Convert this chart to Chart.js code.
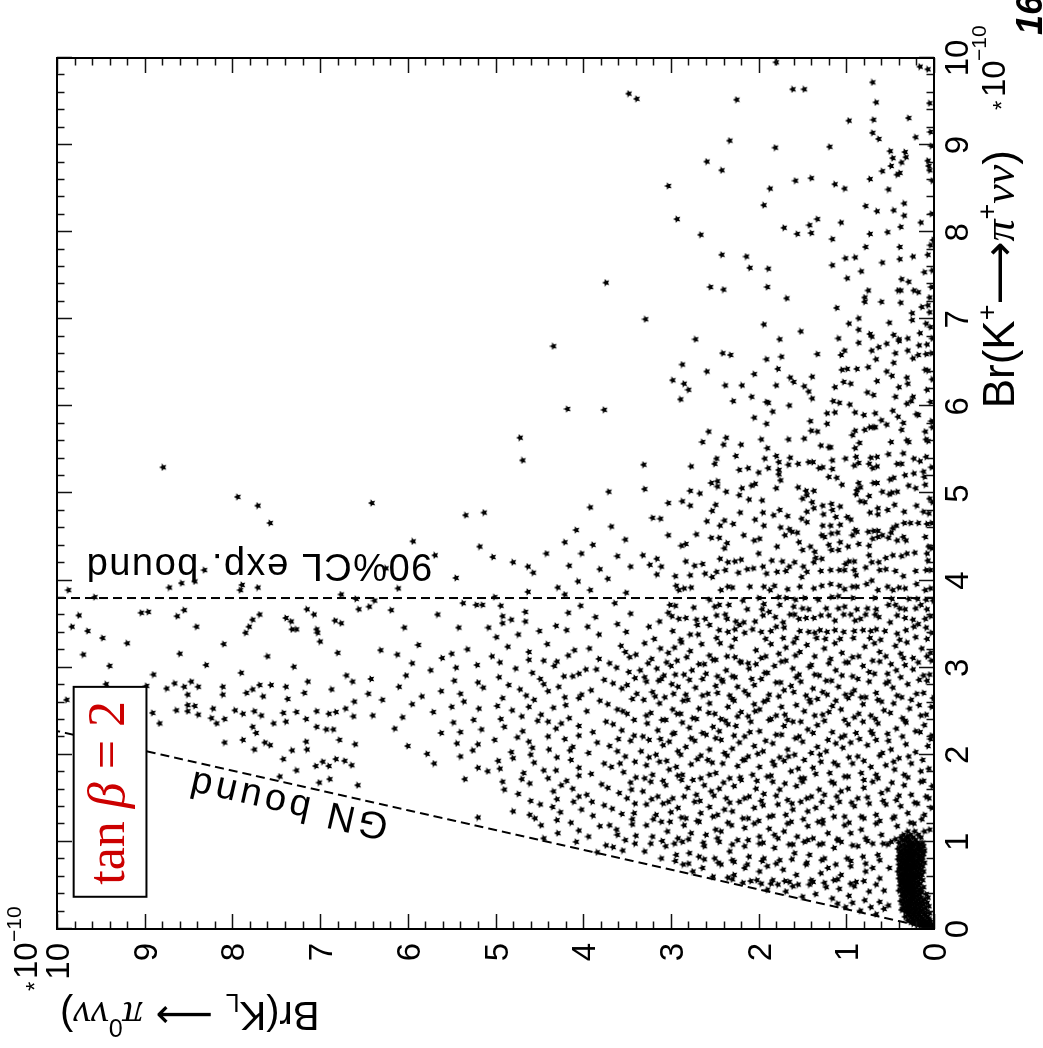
<!DOCTYPE html>
<html>
<head>
<meta charset="utf-8">
<script src="https://cdn.jsdelivr.net/npm/chart.js@4.4.1/dist/chart.umd.min.js"></script>
<style>
  html, body { margin: 0; padding: 0; background: #fff; overflow: hidden; width: 1043px; height: 1048px; }
  /* the page is printed sideways: the whole plot is turned a quarter turn counter-clockwise */
  #turn { position: absolute; left: 0; top: 0; width: 1048px; height: 1043px;
          transform-origin: 0 0; transform: translate(0px, 1048px) rotate(-90deg); }
  canvas { display: block; }
</style>
</head>
<body>
<div id="turn"><canvas id="plot" width="1048" height="1043"></canvas></div>
<script>
// scan points as [Br(K+ -> pi+ nu nu), Br(KL -> pi0 nu nu)], units of 1e-10

// large Br(K+)
const pointsUpper = [
[9.95,1.80],[9.90,0.16],[9.87,0.07],[9.72,0.70],[9.64,1.61],[9.64,1.48],[9.52,2.25],[9.53,3.39],[9.59,3.48],[9.49,0.66],
[9.48,0.05],[9.28,0.97],[9.29,0.69],[9.31,0.29],[9.05,2.33],[9.14,0.70],[9.07,0.63],[9.09,0.21],[9.15,0.04],[8.97,1.81],
[8.98,1.19],[8.99,0.03],[8.81,2.59],[8.93,0.50],[8.92,0.33],[8.85,0.47],[8.86,0.32],[8.80,0.37],[8.82,0.07],[8.76,0.49],
[8.76,0.06],[8.71,2.42],[8.70,0.59],[8.68,0.39],[8.66,0.42],[8.71,0.05],[8.53,3.03],[8.59,1.58],[8.62,1.40],[8.55,1.13],
[8.50,1.02],[8.50,1.87],[8.61,0.73],[8.49,0.52],[8.59,0.02],[8.31,1.94],[8.30,0.78],[8.24,0.65],[8.25,0.46],[8.33,0.34],
[8.19,0.34],[8.21,0.03],[8.15,2.93],[8.05,1.71],[8.08,1.42],[8.15,1.33],[8.11,1.06],[8.11,0.15],[7.97,2.66],[7.98,1.56],
[7.99,1.40],[7.92,1.16],[7.98,0.73],[8.00,0.53],[8.06,0.38],[7.91,0.01],[7.85,0.04],[7.83,0.78],[7.83,0.39],[7.74,2.42],
[7.72,2.14],[7.70,1.01],[7.71,0.90],[7.72,0.24],[7.74,0.07],[7.59,2.10],[7.58,1.89],[7.62,1.16],[7.65,0.59],[7.69,0.39],
[7.55,0.83],[7.54,0.11],[7.56,0.02],[7.37,2.55],[7.34,2.40],[7.37,1.90],[7.47,0.99],[7.46,0.37],[7.43,0.29],[7.33,0.75],
[7.25,0.79],[7.20,0.79],[7.33,0.41],[7.33,0.38],[7.33,0.23],[7.31,0.18],[7.37,0.03],[7.25,0.05],[7.24,1.68],[7.20,0.60],
[7.19,0.38],[7.13,1.11],[7.14,0.14],[7.16,0.07],[7.08,0.05],[7.00,3.29],[6.94,1.94],[6.95,0.97],[7.01,0.86],[7.07,0.25],
[6.99,0.25],[6.96,0.51],[6.95,0.09],[6.91,0.04],[6.86,1.52],[6.88,0.86],[6.83,0.73],[6.80,0.71],[6.82,0.46],[6.84,0.16],
[6.77,2.72],[6.77,1.76],[6.78,1.09],[6.77,0.40],[6.78,0.30],[6.78,0.02],
[7.42,3.74],[6.69,4.34],[5.97,4.18],[5.96,3.76],[5.64,4.72],[5.38,4.69],[5.30,8.79],[4.96,7.94],[4.86,7.71],[4.89,6.41],
[4.75,5.34],[4.78,5.13],[5.02,3.71],[4.84,3.92]
];

// Br(K+) between about 3.3 and 6.8, small Br(KL)
const pointsMiddle = [
[6.73,0.86],[6.72,0.54],[6.75,0.40],[6.70,0.17],[6.71,0.08],[6.59,1.06],[6.64,1.02],[6.64,0.71],[6.68,0.63],[6.61,0.44],
[6.64,0.30],[6.59,0.18],[6.60,0.09],[6.61,0.03],[6.61,2.41],[6.59,2.32],[6.54,1.91],[6.57,1.74],[6.60,1.33],[6.54,0.66],
[6.50,0.46],[6.55,0.24],
[6.48,2.87],[6.40,2.59],[6.30,2.98],[6.26,2.85],[6.19,2.80],[6.43,1.78],[6.37,2.05],[6.33,1.64],[6.28,1.60],[6.34,1.39],
[6.42,1.05],[6.43,0.99],[6.43,0.88],[6.45,0.75],[6.40,0.54],[6.35,0.48],[6.33,0.31],[6.42,0.10],[6.41,0.07],[6.31,0.02],
[6.24,2.38],[6.24,2.19],[6.24,1.80],[6.23,1.48],[6.17,1.43],[6.22,1.13],[6.28,1.03],[6.26,0.95],[6.29,0.65],[6.26,0.30],
[6.19,0.08],[6.08,2.89],
[6.06,2.29],[6.11,2.08],[6.05,1.91],[6.04,1.89],[6.01,1.65],[6.09,1.39],[6.06,1.15],[6.04,1.08],[6.02,0.96],[6.16,0.76],
[6.13,0.69],[6.11,0.44],[6.22,0.40],[6.03,0.31],[6.06,0.26],[6.11,0.24],[5.94,1.84],[5.87,2.05],[5.80,1.91],[5.83,1.41],
[5.92,1.22],[5.93,1.13],[5.80,1.22],[5.93,0.90],[5.90,0.80],[5.92,0.67],[5.84,0.60],[5.79,0.54],[5.95,0.47],[5.88,0.41],
[5.81,0.35],[5.91,0.20],[5.90,0.18],[6.05,0.04],[5.83,0.03],
[5.71,2.57],[5.59,2.64],[5.56,2.40],[5.64,2.37],[5.56,2.20],[5.62,1.97],[5.52,1.90],[5.62,1.66],[5.63,1.48],[5.72,1.40],
[5.71,1.33],[5.55,1.29],[5.53,1.20],[5.53,1.18],[5.67,0.93],[5.72,0.90],[5.58,0.85],[5.52,0.90],[5.73,0.79],[5.76,0.73],
[5.76,0.69],[5.76,0.67],[5.59,0.49],[5.73,0.37],[5.61,0.31],[5.59,0.29],[5.71,0.10],[5.62,0.09],[5.60,0.07],[5.76,0.02],
[5.33,3.31],[5.31,2.77],[5.34,2.50],[5.40,2.48],[5.43,2.26],[5.27,2.22],[5.29,2.12],[5.24,2.00],[5.40,1.93],[5.29,1.89],
[5.43,1.80],[5.36,1.77],[5.27,1.77],[5.33,1.66],[5.41,1.64],[5.34,1.55],[5.36,1.43],[5.36,1.38],[5.29,1.31],[5.30,1.27],
[5.38,1.16],[5.28,1.16],[5.40,1.01],[5.32,0.91],[5.42,0.89],[5.35,0.86],[5.41,0.72],[5.42,0.65],[5.34,0.74],[5.29,0.70],
[5.31,0.65],[5.45,0.52],[5.34,0.42],[5.34,0.37],[5.46,0.35],[5.40,0.23],[5.37,0.16],[5.42,0.09],[5.30,0.03],[5.18,0.46],
[5.16,0.50],[5.21,0.33],[5.23,0.23],[5.19,0.11],[5.19,1.20],[5.18,1.11],[5.22,1.77],[5.15,1.75],[5.25,0.12],
[5.05,3.30],[5.03,2.78],[5.00,2.67],[5.12,2.54],[5.14,2.47],[5.08,2.47],[5.02,2.37],[4.98,2.22],[5.06,2.19],[4.93,2.11],
[5.09,2.08],[5.11,2.04],[4.92,1.96],[5.06,1.80],[5.07,1.55],[4.94,1.50],[5.03,1.46],[4.98,1.45],[5.03,1.37],[4.90,1.39],
[4.86,1.27],[4.88,1.17],[5.10,1.05],[5.12,0.86],[5.04,0.88],[4.99,0.89],[5.07,0.84],[4.97,0.74],[4.91,0.84],[4.90,0.79],
[5.12,0.69],[5.12,0.65],[5.02,0.59],[4.99,0.51],[5.01,0.48],[5.02,0.42],[5.09,0.29],[5.06,0.21],[5.10,0.10],[4.94,0.05],
[4.90,0.02],[4.89,3.03],[4.91,2.87],[4.86,2.78],[4.80,2.53],[4.87,2.49],[4.78,2.21],[4.78,1.95],[4.75,1.83],[4.81,1.76],
[4.74,1.67],[4.79,1.45],[4.83,1.37],[4.76,1.26],[4.81,1.16],[4.85,1.07],[4.73,1.12],[4.73,0.99],[4.78,0.73],[4.83,0.64],
[4.76,0.64],[4.81,0.53],[4.87,0.45],[4.79,0.34],[4.86,0.20],[4.79,0.12],[4.77,0.06],
[4.72,3.21],[4.71,3.12],[4.68,2.59],[4.63,2.44],[4.69,2.39],[4.65,2.29],[4.70,2.04],[4.63,1.94],[4.61,1.75],[4.59,1.65],
[4.71,1.51],[4.67,1.45],[4.63,1.27],[4.63,1.18],[4.64,1.07],[4.70,0.95],[4.58,0.90],[4.56,0.88],[4.56,0.75],[4.57,0.69],
[4.57,0.64],[4.52,0.59],[4.55,0.49],[4.60,0.47],[4.63,0.43],[4.66,0.34],[4.66,0.27],[4.66,0.18],[4.65,0.08],[4.66,0.03],
[4.52,3.03],[4.53,2.71],[4.49,2.54],[4.49,2.45],[4.43,2.36],[4.52,2.17],[4.46,2.05],[4.48,1.99],[4.39,1.79],[4.52,1.70],
[4.56,1.62],[4.55,1.56],[4.44,1.54],[4.35,1.50],[4.39,1.41],[4.33,1.36],[4.52,1.28],[4.50,1.25],[4.54,1.17],[4.55,1.10],
[4.44,1.07],[4.41,1.20],[4.35,1.17],[4.35,1.09],[4.39,0.98],[4.52,0.93],[4.42,0.86],[4.40,0.74],[4.48,0.70],[4.50,0.64],
[4.49,0.52],[4.46,0.42],[4.50,0.35],[4.46,0.32],[4.50,0.10],[4.39,0.06],[4.37,0.03],[4.40,2.88],[4.42,2.83],[4.37,2.39],
[4.29,3.32],[4.18,3.24],[4.25,3.16],[4.16,3.11],[4.07,3.16],[4.05,2.95],[4.22,2.83],[4.17,2.73],[4.19,2.64],[4.06,2.78],
[4.08,2.61],[4.04,2.53],[4.10,2.48],[4.25,2.44],[4.12,2.38],[4.21,2.35],[4.22,2.27],[4.24,2.20],[4.09,2.23],[4.13,2.13],
[4.14,2.06],[4.31,2.00],[4.16,1.95],[4.08,1.91],[4.23,1.85],[4.22,1.73],[4.10,1.79],[4.11,1.69],[4.16,1.65],[4.21,1.59],
[4.16,1.49],[4.04,1.51],[4.10,1.45],[4.21,1.37],[4.26,1.35],[4.25,1.28],[4.11,1.29],[4.12,1.18],[4.12,1.08],[4.12,1.02],
[4.19,1.01],[4.22,0.97],[4.22,0.91],[4.12,0.91],[4.06,0.89],[4.15,0.78],[4.29,0.74],[4.21,0.71],[4.12,0.62],[4.21,0.63],
[4.26,0.55],[4.13,0.55],[4.29,0.47],[4.11,0.44],[4.05,0.35],[4.28,0.37],[4.31,0.31],[4.32,0.22],[4.11,0.21],[4.31,0.08],
[4.23,0.07],[4.12,0.09],[4.12,0.04],
[3.94,2.94],[3.89,2.91],[3.91,2.85],[3.92,2.77],[3.89,2.43],[3.93,2.35],[3.92,2.30],[3.93,2.10],[3.93,1.94],[3.89,1.87],
[3.94,1.82],[3.90,1.67],[3.93,1.53],[3.91,1.37],[3.94,1.28],[3.96,1.18],[3.94,1.08],[3.90,1.02],[3.93,0.93],[3.93,0.88],
[3.96,0.77],[4.00,0.71],[3.89,0.64],[3.93,0.53],[3.89,0.47],[3.92,0.40],[3.91,0.33],[3.96,0.20],[3.89,0.10],[3.91,0.04],
[3.78,2.56],[3.77,2.18],[3.80,2.00],[3.81,1.77],[3.80,1.69],[3.78,1.58],[3.80,1.48],[3.78,1.32],[3.81,1.17],[3.82,1.09],
[3.80,0.93],[3.80,0.68],[3.79,0.48],[3.79,0.29],[3.79,0.19],[3.78,0.09],[3.77,0.01],
[3.72,3.01],[3.71,2.95],[3.69,2.74],[3.70,2.50],[3.72,2.45],[3.72,2.34],[3.67,2.13],[3.67,1.96],[3.73,1.94],[3.72,1.76],
[3.70,1.60],[3.68,1.50],[3.67,1.43],[3.68,1.23],[3.68,1.09],[3.70,1.02],[3.67,0.88],[3.68,0.76],[3.67,0.66],[3.72,0.52],
[3.72,0.44],[3.68,0.39],[3.67,0.33],[3.68,0.21],[3.72,0.15],[3.67,0.08],[3.63,3.03],[3.59,2.99],[3.53,3.13],[3.56,2.91],
[3.57,2.83],[3.55,2.71],[3.49,2.70],[3.56,2.61],[3.49,2.56],[3.60,2.48],[3.61,2.38],[3.56,2.36],[3.53,2.26],[3.49,2.22],
[3.52,2.17],[3.53,2.04],[3.60,1.95],[3.64,1.88],[3.58,1.81],[3.52,1.72],[3.61,1.64],[3.61,1.59],[3.56,1.54],[3.57,1.46],
[3.57,1.37],[3.60,1.29],[3.60,1.20],[3.54,1.13],[3.61,1.03],[3.61,0.95],[3.54,0.90],[3.56,0.84],[3.61,0.78],[3.61,0.67],
[3.58,0.63],[3.52,0.50],[3.60,0.42],[3.57,0.33],[3.55,0.24],[3.50,0.18],[3.56,0.10],[3.59,0.04],[3.47,3.25],[3.42,2.98],
[3.38,2.78],[3.38,2.69],[3.43,2.45],[3.41,2.35],[3.44,2.27],[3.40,2.16],[3.44,2.07],[3.41,1.97],[3.42,1.86],[3.47,1.80],
[3.46,1.71],[3.42,1.53],[3.41,1.43],[3.40,1.36],[3.43,1.30],[3.41,1.22],[3.43,1.13],[3.41,1.03],[3.42,0.91],[3.43,0.81],
[3.42,0.72],[3.44,0.66],[3.42,0.56],[3.39,0.42],[3.43,0.32],[3.47,0.23],[3.46,0.09],[3.40,0.03],[3.33,3.19],[3.32,2.89],
[3.34,2.48],[3.33,2.27],[3.33,1.92],[3.34,1.72],[3.34,1.57],[3.34,1.34],[3.33,1.24],[3.33,1.07],[3.34,0.92],[3.34,0.73],
[3.32,0.61],[3.32,0.39],[3.35,0.21],[3.33,0.08]
];

// large Br(KL), left of the dense band
const pointsLeft = [
[4.66,7.57],[4.45,5.94],[4.29,5.69],[4.39,5.18],[4.27,5.03],[4.21,4.80],[4.16,4.63],[4.09,4.57],[4.31,4.42],
[4.12,8.32],[4.14,6.25],[4.03,5.45],[3.91,6.11],[3.89,9.87],[3.92,8.72],[3.97,8.58],[3.99,8.43],[3.95,7.89],[3.89,7.91],
[3.92,7.71],[3.81,9.57],[3.84,6.76],[3.79,6.59],[3.81,5.01],[3.87,4.63],[3.92,4.29],[3.60,9.75],[3.47,9.83],[3.42,9.65],
[3.34,9.48],[3.63,9.04],[3.64,8.96],[3.59,8.63],[3.66,8.55],[3.47,8.41],[3.61,7.69],[3.55,7.77],[3.47,7.81],[3.40,7.85],
[3.57,7.39],[3.53,7.33],[3.44,7.32],[3.44,7.27],[3.67,7.15],[3.61,7.07],[3.44,7.04],[3.40,7.03],[3.54,6.83],[3.51,6.76],
[3.67,6.56],[3.70,6.44],[3.77,6.38],[3.66,6.19],[3.46,6.04],[3.61,5.66],[3.46,5.42],[3.74,5.37],[3.72,5.22],[3.72,5.15],
[3.46,5.08],[3.35,4.99],[3.71,4.94],[3.59,4.92],[3.51,4.92],[3.55,4.82],[3.64,4.66],[3.53,4.66],[3.42,4.50],[3.48,4.31],
[3.38,4.74],
[4.62,3.68],[4.58,4.08],[4.47,3.52],[4.41,3.89],[4.44,4.21],[4.28,3.61],[4.31,4.02],[4.16,3.46],[4.13,3.81],[4.17,4.16],
[4.02,3.72],[3.99,4.06],[3.86,3.51],[3.89,3.92],[3.84,4.21],[3.74,3.64],[3.71,4.03],[3.62,3.46],[3.58,3.86],[3.63,4.17],
[3.50,3.61],[3.47,3.95],[3.41,3.51],[3.38,3.82],[3.43,4.19],
[3.28,9.20],[3.27,8.10],[3.30,7.00],[3.15,9.70],[3.16,8.60],[3.13,7.60],[3.17,6.80],[3.02,9.40],[3.03,8.30],[3.01,7.30],
[2.92,8.90],[2.94,7.90],[2.91,6.70],
[2.81,9.44],[2.79,8.98],[2.63,9.89],[2.76,8.75],[2.82,8.66],[2.78,8.55],[2.84,8.47],[2.78,8.39],[2.69,8.51],[2.78,8.11],
[2.69,8.11],[2.71,7.84],[2.75,7.77],[2.80,7.69],[2.67,7.65],[2.80,7.56],[2.78,7.39],[2.64,7.37],[2.71,7.18],[2.84,7.14],
[2.75,6.87],[2.84,6.63],[2.57,8.51],[2.56,8.43],[2.51,8.64],[2.50,8.51],[2.46,8.39],[2.53,8.22],[2.42,8.24],[2.36,8.18],
[2.41,8.09],[2.51,7.97],[2.47,7.88],[2.50,7.75],[2.45,7.67],[2.32,7.77],[2.25,7.73],[2.14,7.63],[2.11,7.57],[2.36,7.53],
[2.48,7.42],[2.49,7.27],[2.38,7.39],[2.41,7.16],[2.50,7.04],[2.47,6.90],[2.49,6.82],[2.53,6.71],[2.44,6.62],[2.61,6.61],
[2.48,8.91],[2.36,8.83],[2.14,8.09],[2.17,7.88],[2.06,7.75],[2.05,7.32],[2.15,7.16],[2.06,7.15],[2.32,7.04],[2.29,6.93],
[2.29,6.85],[2.17,6.78],[2.12,6.60],[1.95,7.42],[1.82,7.27],[1.87,7.05],[1.92,6.97],[1.87,6.90],[1.95,6.82],[1.93,6.72],
[1.88,6.64],[1.75,7.46],[1.68,7.01],[1.72,6.89],[1.65,6.57],
[3.25,3.57],[3.22,3.93],[3.27,4.41],[3.24,4.86],[3.21,5.32],[3.26,5.88],[3.20,6.31],
[3.12,3.47],[3.10,3.82],[3.14,4.17],[3.09,4.62],[3.13,5.04],[3.11,5.61],[3.15,6.12],
[3.00,3.62],[2.98,3.97],[3.02,4.33],[2.99,4.77],[3.03,5.21],[2.97,5.74],
[2.88,3.41],[2.86,3.76],[2.90,4.12],[2.87,4.49],[2.89,4.96],[2.85,5.47],[2.91,6.02],[2.87,6.42],
[2.76,3.56],[2.74,3.91],[2.78,4.28],[2.75,4.72],[2.77,5.14],[2.73,5.62],
[2.64,3.44],[2.62,3.81],[2.66,4.21],[2.63,4.56],[2.65,4.92],[2.61,5.36],[2.67,5.84],[2.63,6.29],
[2.52,3.61],[2.50,3.96],[2.54,4.34],[2.51,4.81],[2.53,5.19],[2.49,5.71],
[2.40,3.42],[2.38,3.74],[2.42,4.16],[2.39,4.52],[2.41,4.94],[2.37,5.48],[2.43,6.06],
[2.28,3.56],[2.26,3.89],[2.30,4.31],[2.27,4.69],[2.29,5.16],[2.25,5.62],
[2.16,3.46],[2.14,3.84],[2.18,4.21],[2.15,4.62],[2.17,5.01],[2.13,5.44],
[2.04,3.61],[2.02,3.94],[2.06,4.39],[2.03,4.82],[2.05,5.26],[2.01,5.78],
[1.92,3.41],[1.90,3.76],[1.94,4.14],[1.91,4.56],[1.93,4.97],
[1.80,3.54],[1.78,3.91],[1.82,4.31],[1.79,4.68],[1.81,5.09],
[1.68,3.46],[1.66,3.79],[1.70,4.19],[1.67,4.61],[1.69,4.92],
[1.56,3.59],[1.54,3.96],[1.58,4.34],[1.55,4.74],
[1.44,3.41],[1.42,3.76],[1.46,4.11],[1.43,4.49],
[1.32,3.56],[1.30,3.89],[1.34,4.26],[1.31,4.61],
[1.20,3.44],[1.18,3.81],[1.22,4.14],[1.19,4.48],
[1.08,3.61],[1.06,3.94],[1.10,4.29],
[0.98,3.41],[0.96,3.74],[1.00,4.08],
[0.90,3.55],[0.88,3.84],
[3.18,3.52],[3.05,3.70],[2.95,3.48],[2.82,3.66],[2.70,3.39],[2.58,3.72],[2.47,3.50],[2.35,3.66],[2.22,3.42],[2.10,3.70],
[1.98,3.52],[1.86,3.68],[1.74,3.40],[1.62,3.72],[1.50,3.50],[1.38,3.67],[1.26,3.44],[1.14,3.62],[1.02,3.52],[0.94,3.66],
[3.20,4.10],[3.07,4.30],[2.93,4.05],[2.81,4.45],[2.69,4.02],[2.57,4.20],[2.46,4.48],[2.33,4.05],[2.21,4.40],[2.09,4.12],
[1.97,4.30],[1.85,4.05],[1.73,4.40],[1.61,4.12],[1.49,4.30],[1.37,4.02],[1.25,4.30],[1.13,4.05],[1.04,4.45],
[3.18,4.62],[3.06,4.95],[2.94,4.58],[2.80,4.85],[2.68,4.65],[2.56,4.98],[2.44,4.70],[2.32,4.90],[2.20,4.75],[2.08,4.58],
[1.96,4.80],[1.84,4.95],[1.72,4.70],[1.60,4.90],[1.47,4.60],[1.35,4.80],[1.28,5.20],
[3.16,5.50],[3.00,5.45],[2.83,5.20],[2.70,5.40],[2.55,5.50],[2.40,5.25],[2.26,5.40],[2.12,5.20],[1.98,5.40],[1.85,5.20],
[1.72,5.35],[3.05,5.95],[2.78,6.10],[2.58,5.95],[2.30,6.15],[2.10,6.00],[1.90,5.70],[2.45,6.40],[2.70,6.45],
[3.15,3.40],[2.98,3.85],[2.80,3.50],[2.65,4.05],[2.50,3.55],[2.36,4.25],[2.18,3.60],[2.05,4.15],[1.90,3.58],[1.76,4.05],
[1.60,3.45],[1.46,3.90],[1.33,3.42],[1.19,3.70],[1.07,3.40],[3.08,4.45],[2.90,4.22],[2.73,4.40],[2.55,4.62],[2.38,4.40],
[2.22,4.05],[2.00,4.60],[1.82,4.45],[1.65,4.25],[1.52,4.05],[1.40,4.35],[1.27,4.55]
];

// Br(K+) below about 3.3, Br(KL) below about 3.4
const pointsLower = [
[3.28,3.30],[3.22,3.12],[3.17,3.03],[3.23,2.96],[3.29,2.88],[3.19,2.78],[3.27,2.65],[3.14,2.56],[3.28,2.44],[3.24,2.31],
[3.12,2.27],[3.07,2.21],[3.20,2.03],[3.13,1.92],[3.27,1.86],[3.16,1.77],[3.23,1.69],[3.29,1.60],[3.18,1.53],[3.26,1.45],
[3.13,1.36],[3.22,1.25],[3.28,1.13],[3.17,1.05],[3.12,0.93],[3.24,0.79],[3.28,0.68],[3.18,0.62],[3.13,0.55],[3.25,0.44],
[3.16,0.38],[3.29,0.31],[3.11,0.24],[3.22,0.14],[3.17,0.04],
[2.97,3.35],[3.05,3.26],[2.99,3.16],[2.91,3.08],[3.02,3.00],[3.08,2.93],[2.92,2.85],[2.97,2.76],[3.04,2.62],[3.09,2.52],
[2.90,2.47],[2.97,2.37],[2.89,2.27],[3.06,2.20],[2.99,2.11],[3.04,2.03],[2.94,1.93],[3.02,1.82],[3.08,1.69],[2.99,1.61],
[2.92,1.54],[3.01,1.42],[2.91,1.31],[3.05,1.20],[2.97,1.12],[3.06,0.98],[2.90,0.93],[3.02,0.81],[2.95,0.74],[3.07,0.62],
[2.93,0.53],[2.97,0.43],[3.03,0.33],[2.98,0.24],[2.91,0.12],[3.08,0.03],
[2.84,3.28],[2.72,3.21],[2.87,3.11],[2.81,2.99],[2.78,2.92],[2.69,2.83],[2.77,2.72],[2.87,2.64],[2.70,2.58],[2.79,2.49],
[2.86,2.42],[2.68,2.33],[2.78,2.24],[2.73,2.16],[2.80,2.05],[2.87,1.97],[2.69,1.88],[2.83,1.80],[2.74,1.71],[2.79,1.63],
[2.84,1.52],[2.68,1.46],[2.76,1.38],[2.72,1.27],[2.85,1.17],[2.78,1.09],[2.69,1.01],[2.74,0.91],[2.66,0.83],[2.84,0.74],
[2.71,0.66],[2.82,0.55],[2.77,0.47],[2.66,0.37],[2.81,0.30],[2.70,0.20],[2.85,0.08],[2.65,0.01],
[2.63,3.31],[2.48,3.23],[2.59,3.13],[2.66,3.07],[2.52,2.98],[2.47,2.89],[2.63,2.81],[2.53,2.68],[2.59,2.56],[2.47,2.50],
[2.41,2.43],[2.55,2.35],[2.62,2.28],[2.49,2.20],[2.44,2.12],[2.58,2.05],[2.52,1.99],[2.63,1.90],[2.45,1.80],[2.55,1.74],
[2.40,1.67],[2.57,1.57],[2.50,1.48],[2.60,1.41],[2.64,1.33],[2.46,1.27],[2.56,1.16],[2.52,1.06],[2.65,0.98],[2.43,0.91],
[2.58,0.81],[2.45,0.72],[2.63,0.64],[2.51,0.57],[2.59,0.46],[2.42,0.36],[2.53,0.28],[2.57,0.17],[2.46,0.09],[2.55,0.03],
[2.36,3.27],[2.28,3.15],[2.40,3.06],[2.25,2.96],[2.37,2.87],[2.31,2.79],[2.41,2.71],[2.23,2.60],[2.32,2.52],[2.27,2.45],
[2.35,2.35],[2.33,2.26],[2.21,2.16],[2.38,2.09],[2.27,1.99],[2.40,1.88],[2.23,1.80],[2.33,1.71],[2.38,1.61],[2.21,1.54],
[2.29,1.44],[2.34,1.33],[2.39,1.25],[2.26,1.16],[2.20,1.06],[2.35,0.98],[2.25,0.89],[2.38,0.81],[2.27,0.72],[2.36,0.64],
[2.24,0.53],[2.30,0.43],[2.37,0.32],[2.27,0.21],[2.34,0.11],[2.22,0.03],
[2.04,3.34],[2.17,3.25],[2.00,3.17],[2.11,3.09],[2.15,3.02],[2.04,2.92],[2.09,2.83],[2.16,2.73],[1.99,2.66],[2.06,2.56],
[2.19,2.49],[2.02,2.39],[2.07,2.30],[2.14,2.22],[1.98,2.12],[2.10,2.05],[2.04,1.95],[2.13,1.84],[1.97,1.76],[2.06,1.67],
[2.00,1.59],[2.15,1.50],[2.02,1.40],[2.09,1.33],[2.04,1.23],[2.13,1.12],[2.08,1.04],[2.14,0.95],[1.98,0.87],[2.11,0.76],
[2.17,0.66],[2.02,0.59],[2.06,0.49],[1.96,0.40],[2.12,0.32],[2.03,0.21],[2.10,0.07],
[1.88,3.28],[1.77,3.21],[1.92,3.13],[1.83,3.02],[1.86,2.94],[1.77,2.87],[1.89,2.77],[1.73,2.66],[1.94,2.58],[1.79,2.49],
[1.90,2.41],[1.73,2.33],[1.87,2.24],[1.94,2.16],[1.77,2.07],[1.86,1.99],[1.75,1.90],[1.88,1.82],[1.93,1.71],[1.81,1.63],
[1.84,1.55],[1.73,1.48],[1.85,1.38],[1.92,1.29],[1.79,1.19],[1.88,1.10],[1.75,1.02],[1.90,0.93],[1.79,0.83],[1.86,0.72],
[1.73,0.64],[1.88,0.55],[1.83,0.45],[1.77,0.34],[1.90,0.26],[1.81,0.15],[1.84,0.06],
[1.58,3.32],[1.69,3.23],[1.52,3.15],[1.65,3.06],[1.50,2.98],[1.71,2.88],[1.62,2.81],[1.54,2.71],[1.65,2.62],[1.58,2.54],
[1.61,2.45],[1.50,2.37],[1.64,2.28],[1.71,2.20],[1.52,2.11],[1.61,2.03],[1.55,1.94],[1.69,1.84],[1.60,1.76],[1.48,1.67],
[1.64,1.57],[1.69,1.50],[1.52,1.40],[1.60,1.31],[1.54,1.25],[1.67,1.14],[1.58,1.06],[1.61,0.98],[1.50,0.87],[1.62,0.80],
[1.69,0.70],[1.56,0.60],[1.60,0.53],[1.48,0.43],[1.65,0.34],[1.54,0.26],[1.69,0.15],[1.52,0.09],[1.64,0.02],
[1.43,3.28],[1.31,3.17],[1.44,3.09],[1.34,3.00],[1.39,2.92],[1.27,2.83],[1.46,2.73],[1.33,2.66],[1.40,2.56],[1.31,2.47],
[1.37,2.39],[1.35,2.30],[1.46,2.22],[1.27,2.12],[1.39,2.05],[1.42,1.95],[1.29,1.88],[1.43,1.78],[1.31,1.69],[1.37,1.61],
[1.46,1.52],[1.35,1.44],[1.39,1.35],[1.25,1.27],[1.39,1.17],[1.46,1.08],[1.29,1.02],[1.41,0.91],[1.29,0.83],[1.44,0.74],
[1.31,0.66],[1.43,0.55],[1.27,0.47],[1.41,0.38],[1.33,0.30],[1.44,0.19],[1.31,0.11],[1.39,0.03],
[1.19,3.28],[1.06,3.21],[1.23,3.11],[1.12,3.04],[1.04,2.92],[1.19,2.85],[1.10,2.77],[1.23,2.68],[1.08,2.60],[1.14,2.49],
[1.12,2.43],[1.19,2.31],[1.02,2.24],[1.16,2.16],[1.21,2.05],[1.06,1.99],[1.15,1.88],[1.08,1.82],[1.12,1.71],[1.23,1.63],
[1.06,1.56],[1.18,1.44],[1.04,1.38],[1.21,1.27],[1.10,1.21],[1.02,1.10],[1.19,1.02],[1.10,0.95],[1.14,0.83],[1.04,0.78],
[1.21,0.66],[1.08,0.60],[1.00,0.49],[1.18,0.42],[1.06,0.30],[1.21,0.23],[1.12,0.11],[1.14,0.05],
[0.89,3.30],[0.98,3.23],[0.81,3.11],[0.95,3.06],[0.85,2.94],[1.00,2.87],[0.87,2.79],[0.83,2.68],[0.95,2.62],[0.81,2.50],
[1.00,2.45],[0.89,2.33],[0.77,2.28],[0.95,2.16],[0.83,2.11],[0.98,1.99],[0.81,1.94],[0.93,1.82],[0.79,1.76],[0.97,1.65],
[0.87,1.59],[1.00,1.48],[0.85,1.42],[0.97,1.31],[0.81,1.25],[0.93,1.14],[1.00,1.06],[0.81,0.99],[0.95,0.87],[0.83,0.81],
[0.98,0.70],[0.85,0.64],[0.97,0.53],
[0.74,2.86],[0.66,2.75],[0.70,2.64],[0.60,2.52],[0.74,2.43],[0.59,2.35],[0.62,2.28],[0.70,2.16],[0.55,2.09],[0.66,1.99],
[0.72,1.90],[0.56,1.84],[0.68,1.72],[0.54,1.65],[0.62,1.57],[0.74,1.46],[0.54,1.38],[0.64,1.29],[0.70,1.21],[0.56,1.14],
[0.62,1.06],[0.72,0.95],[0.54,0.89],[0.66,0.78],[0.70,0.70],[0.58,0.62],[0.70,0.51],
[0.52,1.97],[0.45,1.90],[0.51,1.78],[0.43,1.69],[0.49,1.61],[0.37,1.50],[0.51,1.42],[0.40,1.35],[0.48,1.23],[0.35,1.16],
[0.46,1.08],[0.38,0.97],[0.49,0.91],[0.33,0.79],[0.43,0.74],[0.31,0.62],[0.44,0.57],[0.27,0.52],
[0.29,1.10],[0.25,1.01],[0.30,0.93],[0.21,0.84],[0.25,0.72],[0.17,0.66],[0.23,0.57]
];

// further points filling the densest part of the scan
const pointsDense = [
[3.10,3.22],[3.06,3.05],[3.12,2.82],[3.04,2.68],[3.09,2.49],[3.13,2.36],[3.05,2.12],[3.11,1.97],[3.07,1.74],[3.14,1.58],
[3.03,1.40],[3.10,1.18],[3.06,1.01],[3.13,0.86],[3.08,0.70],[3.04,0.49],[3.11,0.35],[3.06,0.18],[3.13,0.08],
[2.89,3.30],[2.85,3.14],[2.92,2.95],[2.86,2.79],[2.93,2.60],[2.84,2.41],[2.90,2.30],[2.87,2.08],[2.94,1.90],[2.83,1.75],
[2.89,1.57],[2.92,1.36],[2.85,1.23],[2.91,1.05],[2.87,0.87],[2.93,0.68],[2.84,0.52],[2.89,0.38],[2.86,0.17],[2.92,0.05],
[2.67,3.18],[2.70,2.97],[2.62,2.86],[2.68,2.64],[2.71,2.47],[2.64,2.30],[2.69,2.12],[2.61,1.94],[2.67,1.77],[2.72,1.60],
[2.63,1.42],[2.69,1.22],[2.62,1.12],[2.70,0.94],[2.66,0.78],[2.61,0.60],[2.68,0.42],[2.63,0.26],[2.71,0.12],
[2.45,3.28],[2.40,3.10],[2.47,2.93],[2.42,2.75],[2.48,2.57],[2.39,2.38],[2.44,2.24],[2.50,2.04],[2.41,1.86],[2.46,1.70],
[2.38,1.52],[2.45,1.36],[2.49,1.20],[2.40,1.02],[2.47,0.86],[2.41,0.67],[2.48,0.50],[2.39,0.33],[2.45,0.15],
[2.21,3.32],[2.18,3.12],[2.24,2.98],[2.19,2.77],[2.25,2.64],[2.17,2.43],[2.22,2.28],[2.26,2.10],[2.16,1.92],[2.23,1.74],
[2.19,1.58],[2.25,1.38],[2.17,1.21],[2.22,1.02],[2.18,0.85],[2.24,0.70],[2.16,0.52],[2.21,0.36],[2.26,0.16],[2.18,0.04],
[1.97,3.25],[1.93,3.05],[2.00,2.89],[1.95,2.70],[1.91,2.53],[1.99,2.36],[1.94,2.18],[2.01,2.01],[1.92,1.84],[1.98,1.66],
[1.94,1.48],[2.00,1.30],[1.91,1.14],[1.97,0.97],[1.93,0.80],[1.99,0.62],[1.92,0.46],[1.98,0.29],[1.94,0.13],
[1.73,3.30],[1.70,3.09],[1.76,2.92],[1.71,2.75],[1.77,2.56],[1.68,2.40],[1.74,2.21],[1.70,2.02],[1.76,1.86],[1.67,1.70],
[1.73,1.52],[1.78,1.35],[1.69,1.17],[1.75,0.98],[1.71,0.80],[1.77,0.66],[1.68,0.48],[1.74,0.30],[1.70,0.12],
[1.49,3.22],[1.46,3.03],[1.52,2.85],[1.47,2.67],[1.53,2.51],[1.45,2.33],[1.50,2.16],[1.47,1.97],[1.53,1.80],[1.44,1.62],
[1.50,1.45],[1.46,1.28],[1.52,1.11],[1.45,0.94],[1.51,0.76],[1.47,0.58],[1.53,0.40],[1.45,0.22],[1.50,0.06],
[1.26,3.20],[1.23,3.01],[1.28,2.88],[1.24,2.70],[1.29,2.52],[1.22,2.35],[1.27,2.18],[1.24,2.00],[1.30,1.84],[1.21,1.67],
[1.26,1.49],[1.23,1.32],[1.29,1.14],[1.22,0.97],[1.27,0.80],[1.24,0.62],[1.29,0.45],[1.22,0.27],[1.26,0.14],
[1.01,3.10],[0.98,2.96],[1.03,2.80],[0.99,2.63],[1.04,2.47],[0.97,2.30],[1.02,2.12],[0.99,1.95],[1.04,1.78],[0.97,1.61],
[1.02,1.44],[0.98,1.27],[1.03,1.10],[0.96,0.93],[1.01,0.76],[0.98,0.58],[1.03,0.44],
[0.78,2.95],[0.75,2.80],[0.80,2.62],[0.76,2.46],[0.79,2.30],[0.74,2.13],[0.78,1.96],[0.75,1.80],[0.80,1.62],[0.76,1.45],
[0.79,1.28],[0.74,1.12],[0.78,0.95],[0.75,0.78],[0.79,0.62],
[0.57,2.30],[0.53,2.18],[0.56,2.02],[0.52,1.86],[0.55,1.70],[0.51,1.55],[0.56,1.40],[0.53,1.25],[0.57,1.10],[0.52,0.95],
[0.55,0.80],[0.51,0.66]
];

// tight cluster at very small Br(KL)
const pointsCluster = [
[1.12,0.30],[1.12,0.22],[1.08,0.35],[1.08,0.27],[1.08,0.18],[1.05,0.38],[1.05,0.31],[1.05,0.24],[1.05,0.15],
[1.02,0.33],[1.02,0.28],[1.02,0.21],[1.02,0.36],[0.99,0.40],[0.99,0.30],[0.99,0.25],[0.99,0.19],[0.99,0.13],
[0.97,0.35],[0.97,0.27],[0.97,0.22],[0.97,0.16],[0.95,0.38],[0.95,0.32],[0.95,0.29],[0.95,0.24],[0.95,0.18],[0.95,0.12],
[0.92,0.41],[0.92,0.34],[0.92,0.28],[0.92,0.20],[0.92,0.15],[0.92,0.26],[0.90,0.37],[0.90,0.31],[0.90,0.23],[0.90,0.17],
[0.90,0.11],[0.88,0.39],[0.88,0.33],[0.88,0.27],[0.88,0.21],[0.88,0.14],[0.88,0.29],[0.86,0.36],[0.86,0.30],[0.86,0.24],
[0.86,0.19],[0.86,0.12],[0.84,0.40],[0.84,0.34],[0.84,0.28],[0.84,0.22],[0.84,0.16],[0.84,0.26],[0.82,0.37],[0.82,0.31],
[0.82,0.25],[0.82,0.18],[0.82,0.13],[0.80,0.41],[0.80,0.35],[0.80,0.29],[0.80,0.23],[0.80,0.17],[0.80,0.27],[0.78,0.38],
[0.78,0.32],[0.78,0.26],[0.78,0.20],[0.78,0.14],[0.76,0.36],[0.76,0.30],[0.76,0.24],[0.76,0.19],[0.76,0.33],[0.76,0.11],
[0.74,0.40],[0.74,0.34],[0.74,0.28],[0.74,0.22],[0.74,0.16],[0.72,0.37],[0.72,0.31],[0.72,0.25],[0.72,0.20],[0.72,0.13],
[0.72,0.27],[0.70,0.39],[0.70,0.33],[0.70,0.29],[0.70,0.23],[0.70,0.17],[0.68,0.35],[0.68,0.30],[0.68,0.26],[0.68,0.21],
[0.68,0.15],[0.68,0.38],[0.66,0.41],[0.66,0.32],[0.66,0.27],[0.66,0.19],[0.66,0.12],[0.64,0.37],[0.64,0.33],[0.64,0.28],
[0.64,0.23],[0.64,0.17],[0.64,0.25],[0.62,0.39],[0.62,0.34],[0.62,0.30],[0.62,0.24],[0.62,0.20],[0.62,0.14],[0.60,0.36],
[0.60,0.31],[0.60,0.27],[0.60,0.22],[0.60,0.18],[0.58,0.40],[0.58,0.35],[0.58,0.29],[0.58,0.25],[0.58,0.21],[0.58,0.16],
[0.56,0.37],[0.56,0.32],[0.56,0.28],[0.56,0.23],[0.56,0.13],[0.54,0.34],[0.54,0.30],[0.54,0.26],[0.54,0.19],[0.54,0.38],
[0.52,0.36],[0.52,0.31],[0.52,0.27],[0.52,0.22],[0.52,0.16],[0.50,0.39],[0.50,0.33],[0.50,0.28],[0.50,0.24],[0.50,0.18],
[0.48,0.35],[0.48,0.30],[0.48,0.25],[0.48,0.20],[0.48,0.12],[0.46,0.37],[0.46,0.32],[0.46,0.27],[0.46,0.22],[0.46,0.15],
[0.44,0.33],[0.44,0.29],[0.44,0.24],[0.44,0.18],[0.44,0.40],[0.42,0.36],[0.42,0.30],[0.42,0.26],[0.42,0.21],[0.42,0.14],
[0.40,0.34],[0.40,0.28],[0.40,0.23],[0.40,0.17],[0.40,0.09],[0.38,0.37],[0.38,0.31],[0.38,0.25],[0.38,0.19],
[0.36,0.33],[0.36,0.27],[0.36,0.22],[0.36,0.15],[0.36,0.07],[0.34,0.35],[0.34,0.29],[0.34,0.24],[0.34,0.18],[0.34,0.11],
[0.32,0.38],[0.32,0.31],[0.32,0.26],[0.32,0.20],[0.32,0.13],[0.30,0.34],[0.30,0.28],[0.30,0.22],[0.30,0.16],[0.30,0.08],
[0.28,0.36],[0.28,0.30],[0.28,0.25],[0.28,0.19],[0.28,0.12],[0.26,0.32],[0.26,0.27],[0.26,0.21],[0.26,0.15],[0.26,0.06],
[0.24,0.35],[0.24,0.29],[0.24,0.23],[0.24,0.17],[0.24,0.10],[0.22,0.31],[0.22,0.26],[0.22,0.20],[0.22,0.13],[0.22,0.37],
[0.20,0.33],[0.20,0.28],[0.20,0.22],[0.20,0.16],[0.20,0.08],[0.18,0.30],[0.18,0.25],[0.18,0.19],[0.18,0.12],[0.18,0.05],
[0.16,0.29],[0.16,0.23],[0.16,0.17],[0.16,0.10],[0.14,0.27],[0.14,0.21],[0.14,0.15],[0.14,0.08],[0.14,0.33],
[0.12,0.25],[0.12,0.19],[0.12,0.13],[0.12,0.06],[0.10,0.23],[0.10,0.17],[0.10,0.11],[0.10,0.05],[0.10,0.30],
[0.08,0.20],[0.08,0.14],[0.08,0.09],[0.08,0.04],[0.08,0.27],[0.06,0.18],[0.06,0.12],[0.06,0.07],[0.06,0.24],
[0.05,0.15],[0.05,0.10],[0.05,0.03],[0.05,0.20],[0.04,0.13],[0.04,0.08],[0.04,0.16],[0.03,0.10],[0.03,0.05],[0.03,0.12],
[0.02,0.07],[0.02,0.03],[0.01,0.04],[0.01,0.02]
];

// axis numbering (same on both axes)
const tickValues = [0,1,2,3,4,5,6,7,8,9,10];
const tickLabels = ['0','1','2','3','4','5','6','7','8','9','10'];

// Grossman–Nir bound: Br(KL) <= 4.4 Br(K+)
const gnRatio = 4.4;
// 90% CL experimental upper limit on Br(K+)
const expBoundKplus = 3.8;
const tanBetaValue = '2';

// small filled star used as the marker
function makeStar(size, color) {
  const c = document.createElement('canvas');
  c.width = size; c.height = size;
  const g = c.getContext('2d');
  const cx = size / 2, cy = size / 2, ro = size / 2, ri = ro * 0.5;
  g.beginPath();
  for (let k = 0; k < 10; k++) {
    const r = (k % 2) ? ri : ro;
    const a = -Math.PI / 2 + k * Math.PI / 5;
    const px = cx + r * Math.cos(a), py = cy + r * Math.sin(a);
    if (k === 0) g.moveTo(px, py); else g.lineTo(px, py);
  }
  g.closePath();
  g.fillStyle = color;
  g.fill();
  return c;
}
const starMarker = makeStar(8, '#000');

const allPoints = [].concat(pointsUpper, pointsMiddle, pointsLeft, pointsLower, pointsDense, pointsCluster)
  .map(([kp, kl]) => ({ x: kp, y: kl }));

const SANS = '"Liberation Sans", Arial, sans-serif';
const SERIF = '"Liberation Serif", "Times New Roman", serif';

// text made of runs: [text, kind]; kind: '' normal, 'sup', 'sub', 'gr' greek, 'ar' arrow
function runFont(kind, size) {
  if (kind === 'sup' || kind === 'sub') return `${Math.round(size * 0.62)}px ${SANS}`;
  if (kind === 'gr') return `italic ${size}px ${SERIF}`;
  if (kind === 'ar') return `${size}px "DejaVu Sans", sans-serif`;
  return `${size}px ${SANS}`;
}
function runsWidth(ctx, runs, size) {
  let w = 0;
  for (const [t, k] of runs) { ctx.font = runFont(k, size); w += ctx.measureText(t).width; }
  return w;
}
function drawRuns(ctx, runs, x, y, size) {
  let cx = x;
  ctx.textAlign = 'left';
  ctx.textBaseline = 'alphabetic';
  for (const [t, k] of runs) {
    ctx.font = runFont(k, size);
    let dy = 0;
    if (k === 'sup') dy = -size * 0.42;
    if (k === 'sub') dy = size * 0.2;
    ctx.fillText(t, cx, y + dy);
    cx += ctx.measureText(t).width;
  }
  return cx;
}

const titleKplus = [['Br(K', ''], ['+', 'sup'], ['\u27F6', 'ar'], ['\u03C0', 'gr'], ['+', 'sup'], ['\u03BD\u03BD', 'gr'], [')', '']];
const titleKlong = [['Br(K', ''], ['L', 'sub'], [' \u27F6 ', 'ar'], ['\u03C0', 'gr'], ['0', 'sup'], ['\u03BD\u03BD', 'gr'], [')', '']];

const decorations = {
  id: 'decorations',
  afterDatasetsDraw(chart) {
    const { ctx, scales: { x, y } } = chart;
    ctx.save();
    ctx.fillStyle = '#000';

    // label along the Grossman–Nir line
    const p0x = x.getPixelForValue(0), p0y = y.getPixelForValue(0);
    const p1x = x.getPixelForValue(10 / gnRatio), p1y = y.getPixelForValue(10);
    const ang = Math.atan2(p1y - p0y, p1x - p0x);
    const klAt = 6.18;
    ctx.save();
    ctx.translate(x.getPixelForValue(klAt / gnRatio), y.getPixelForValue(klAt));
    ctx.rotate(ang);
    ctx.font = `38px ${SANS}`;
    ctx.letterSpacing = '4px';
    ctx.textAlign = 'left';
    ctx.textBaseline = 'alphabetic';
    ctx.fillText('GN bound', 0, -9);
    ctx.restore();

    // label along the experimental bound
    ctx.save();
    ctx.translate(x.getPixelForValue(expBoundKplus) + 44, y.getPixelForValue(5.72));
    ctx.rotate(-Math.PI / 2);
    ctx.font = `38px ${SANS}`;
    ctx.letterSpacing = '1.5px';
    ctx.textAlign = 'left';
    ctx.textBaseline = 'alphabetic';
    ctx.fillText('90%CL exp. bound', 0, 0);
    ctx.restore();

    // tan(beta) box
    const bl = x.getPixelForValue(0.37), br = x.getPixelForValue(2.78);
    const bt = y.getPixelForValue(9.81), bb = y.getPixelForValue(8.98);
    ctx.fillStyle = '#fff';
    ctx.fillRect(bl, bt, br - bl, bb - bt);
    ctx.strokeStyle = '#000';
    ctx.lineWidth = 2;
    ctx.strokeRect(bl, bt, br - bl, bb - bt);
    ctx.fillStyle = '#cc0000';
    ctx.textBaseline = 'alphabetic';
    ctx.textAlign = 'left';
    let tx = bl + 12;
    const base = bt + 50;
    ctx.font = `52px ${SERIF}`;
    ctx.fillText('tan ', tx, base); tx += ctx.measureText('tan ').width;
    ctx.font = `italic 52px ${SERIF}`;
    ctx.fillText('\u03B2', tx, base); tx += ctx.measureText('\u03B2').width;
    ctx.font = `52px ${SERIF}`;
    ctx.fillText(' = ' + tanBetaValue, tx, base);
    ctx.restore();
  },
  afterDraw(chart) {
    const { ctx, chartArea: a, scales: { x, y } } = chart;
    ctx.save();
    ctx.strokeStyle = '#111';
    ctx.lineWidth = 1.5;
    // inward ticks on all four sides, five divisions per unit
    ctx.beginPath();
    for (let i = 0; i <= 50; i++) {
      const v = i / 5;
      const len = (i % 5 === 0) ? 15 : 7.5;
      const px = Math.round(x.getPixelForValue(v)) + 0.5;
      const py = Math.round(y.getPixelForValue(v)) + 0.5;
      ctx.moveTo(px, a.bottom); ctx.lineTo(px, a.bottom - len);
      ctx.moveTo(px, a.top); ctx.lineTo(px, a.top + len);
      ctx.moveTo(a.left, py); ctx.lineTo(a.left + len, py);
      ctx.moveTo(a.right, py); ctx.lineTo(a.right - len, py);
    }
    ctx.stroke();
    // frame
    ctx.strokeStyle = '#000';
    ctx.lineWidth = 2;
    ctx.strokeRect(a.left, a.top, a.right - a.left, a.bottom - a.top);

    // tick labels
    ctx.fillStyle = '#000';
    ctx.font = `33px ${SANS}`;
    ctx.textBaseline = 'alphabetic';
    tickValues.forEach((v, i) => {
      ctx.textAlign = 'center';
      ctx.fillText(tickLabels[i], x.getPixelForValue(v), a.bottom + 34);
      ctx.textAlign = 'right';
      ctx.fillText(tickLabels[i], a.left - 14, y.getPixelForValue(v) + 12);
    });

    // axis titles
    const tsK = 44;
    const wK = runsWidth(ctx, titleKplus, tsK);
    drawRuns(ctx, titleKplus, x.getPixelForValue(10) - 92 - wK, a.bottom + 80, tsK);
    const tsL = 40;
    const wL = runsWidth(ctx, titleKlong, tsL);
    ctx.save();
    ctx.translate(a.left - 73, a.top + 3);
    ctx.rotate(-Math.PI / 2);
    drawRuns(ctx, titleKlong, -wL, 0, tsL);
    ctx.restore();

    // common factors of the axes
    ctx.textAlign = 'left';
    ctx.font = `24px ${SANS}`;
    ctx.fillText('*', x.getPixelForValue(10) - 52, a.bottom + 76);
    ctx.font = `33px ${SANS}`;
    ctx.fillText('10', x.getPixelForValue(10) - 39, a.bottom + 71);
    ctx.font = `21px ${SANS}`;
    ctx.fillText('\u221210', x.getPixelForValue(10) - 3, a.bottom + 52);

    ctx.font = `24px ${SANS}`;
    ctx.fillText('*', a.left - 62, a.top - 14);
    ctx.font = `33px ${SANS}`;
    ctx.fillText('10', a.left - 50, a.top - 20);
    ctx.font = `21px ${SANS}`;
    ctx.fillText('\u221210', a.left - 13, a.top - 36);

    // page number
    ctx.font = `bold italic 36px ${SANS}`;
    ctx.fillText('16', 1013, 1042);
    ctx.restore();
  }
};

new Chart(document.getElementById('plot'), {
  type: 'scatter',
  data: {
    datasets: [
      {
        data: allPoints,
        pointStyle: starMarker,
        pointRadius: 4,
        order: 2
      },
      {
        type: 'line',
        data: [{ x: 0, y: 0 }, { x: 10 / gnRatio, y: 10 }],
        borderColor: '#000', borderWidth: 2, borderDash: [9, 5],
        pointRadius: 0, fill: false, order: 1
      },
      {
        type: 'line',
        data: [{ x: expBoundKplus, y: 0 }, { x: expBoundKplus, y: 10 }],
        borderColor: '#000', borderWidth: 2, borderDash: [9, 5],
        pointRadius: 0, fill: false, order: 1
      }
    ]
  },
  options: {
    responsive: false,
    animation: false,
    devicePixelRatio: 1,
    layout: { padding: { left: 0, right: 58, top: 57, bottom: 0 } },
    plugins: { legend: { display: false }, tooltip: { enabled: false } },
    scales: {
      x: {
        type: 'linear', min: 0, max: 10,
        ticks: { display: false, stepSize: 1 },
        grid: { display: false }, border: { display: false },
        afterFit(s) { s.height = 109; }
      },
      y: {
        type: 'linear', min: 0, max: 10,
        ticks: { display: false, stepSize: 1 },
        grid: { display: false }, border: { display: false },
        afterFit(s) { s.width = 119; }
      }
    }
  },
  plugins: [decorations]
});
</script>
</body>
</html>
